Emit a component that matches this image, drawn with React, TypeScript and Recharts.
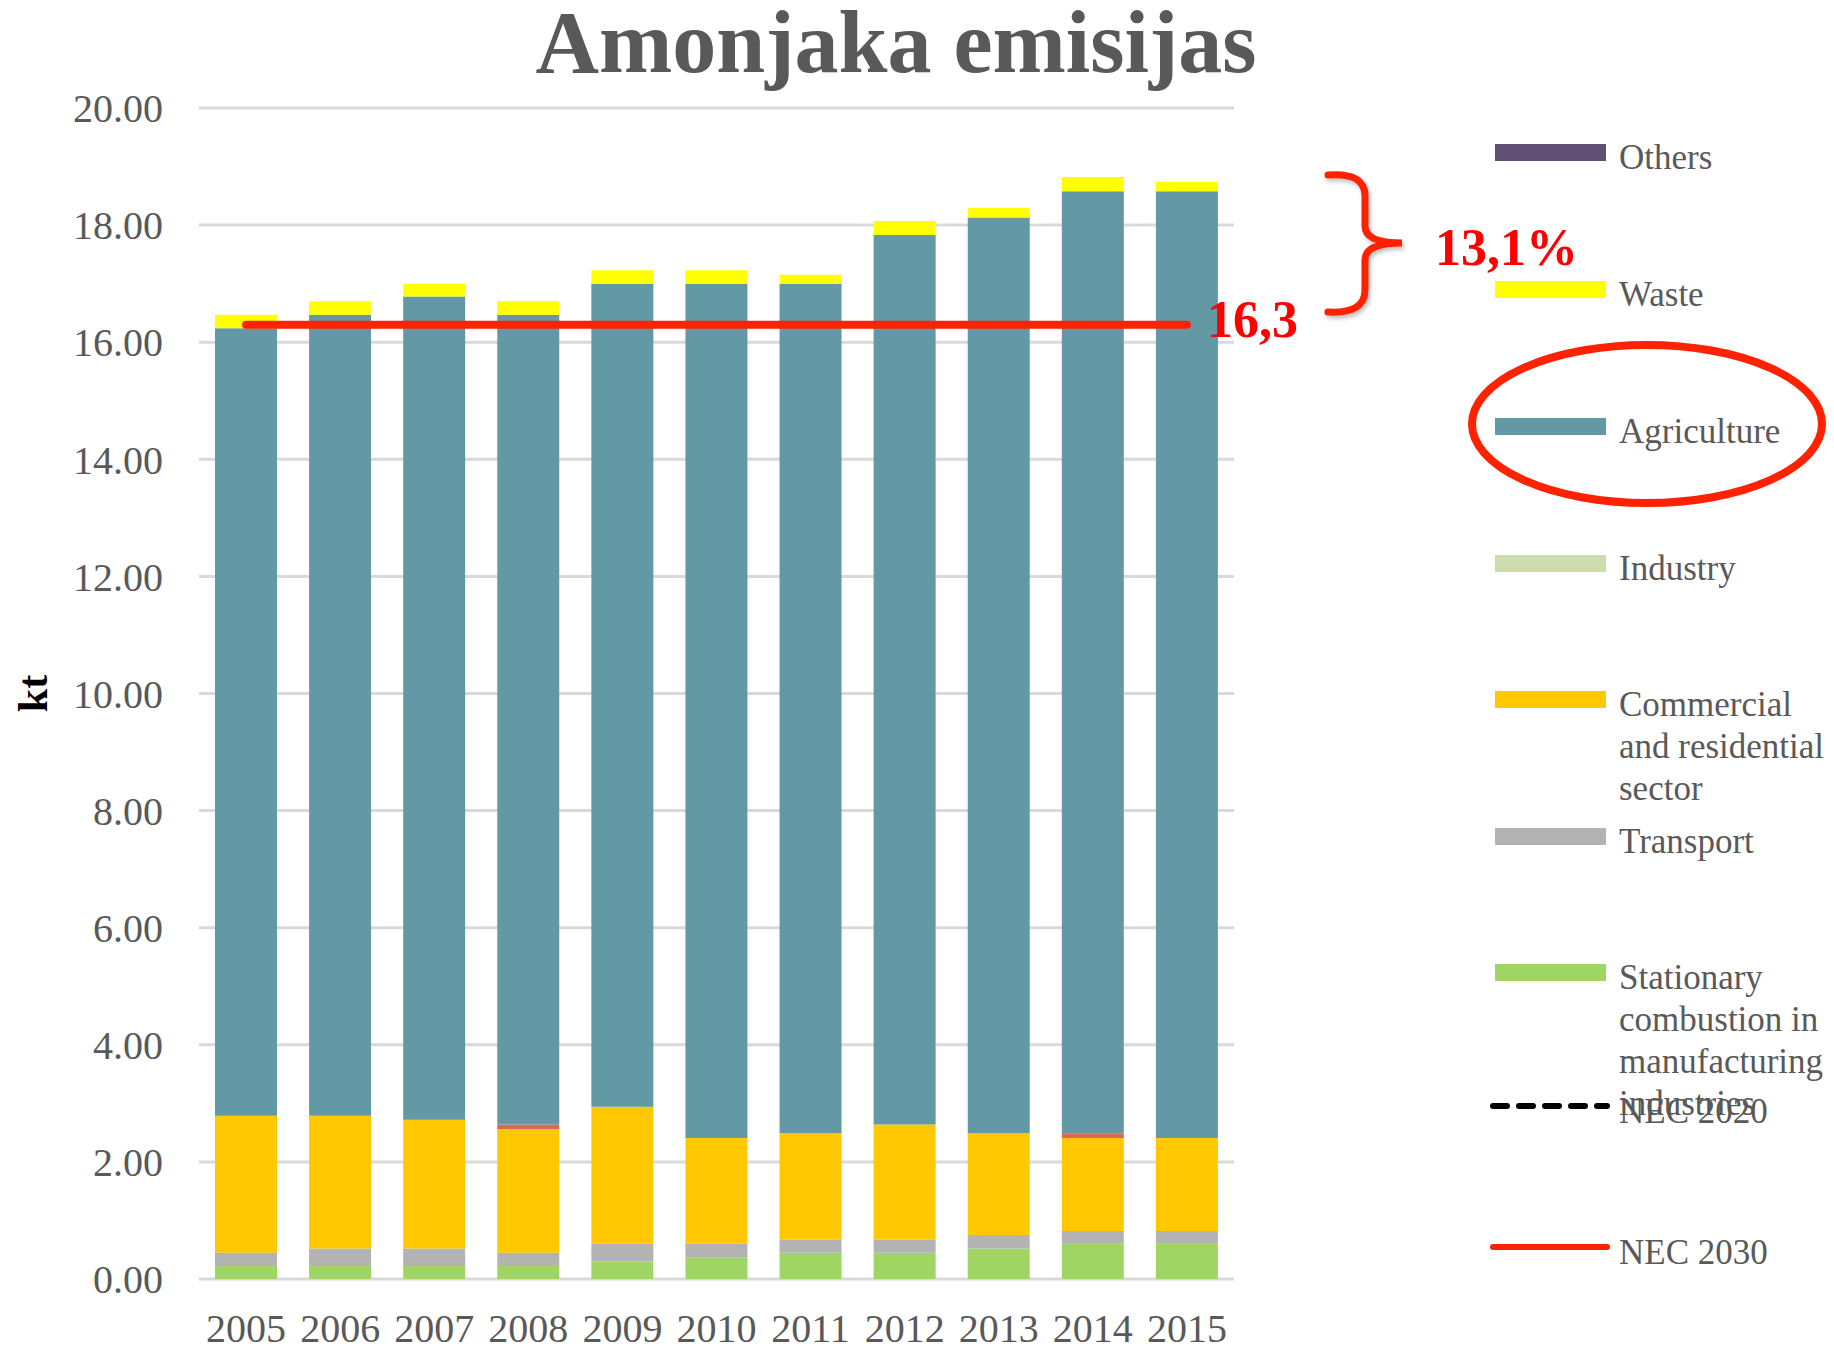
import React from 'react';
import { ComposedChart, Bar, Line, XAxis, YAxis, CartesianGrid } from 'recharts';

const years = ['2005', '2006', '2007', '2008', '2009', '2010', '2011', '2012', '2013', '2014', '2015'];

// kt, stacked bottom to top
const stationary = [0.22, 0.22, 0.22, 0.22, 0.3, 0.37, 0.45, 0.45, 0.52, 0.6, 0.6];
const transport = [0.23, 0.3, 0.3, 0.23, 0.3, 0.23, 0.22, 0.22, 0.23, 0.22, 0.22];
const commercial = [2.34, 2.27, 2.2, 2.11, 2.34, 1.81, 1.82, 1.97, 1.74, 1.59, 1.59];
const industry = [0, 0, 0, 0, 0, 0, 0, 0, 0, 0, 0];
const unlisted = [0, 0, 0, 0.08, 0, 0, 0, 0, 0, 0.08, 0];
const agriculture = [13.45, 13.68, 14.06, 13.83, 14.06, 14.59, 14.51, 15.19, 15.64, 16.09, 16.17];
const waste = [0.23, 0.23, 0.22, 0.23, 0.23, 0.23, 0.15, 0.24, 0.16, 0.24, 0.16];
const others = [0, 0, 0, 0, 0, 0, 0, 0, 0, 0, 0];
const nec2030Target = 16.3;

const yTicks = [0, 2, 4, 6, 8, 10, 12, 14, 16, 18, 20];

const data = years.map((year, i) => ({
  year,
  stationary: stationary[i],
  transport: transport[i],
  commercial: commercial[i],
  industry: industry[i],
  unlisted: unlisted[i],
  agriculture: agriculture[i],
  waste: waste[i],
  others: others[i],
  nec2030: nec2030Target,
}));

const FONT = "'Liberation Serif', 'Times New Roman', serif";
const TEXT_GRAY = '#595959';
const RED = '#ff2200';

const legendItems = [
  { lines: ['Others'], color: '#5f5073', kind: 'bar', y: 152 },
  { lines: ['Waste'], color: '#ffff00', kind: 'bar', y: 289 },
  { lines: ['Agriculture'], color: '#6399a5', kind: 'bar', y: 426 },
  { lines: ['Industry'], color: '#cddcac', kind: 'bar', y: 563 },
  { lines: ['Commercial', 'and residential', 'sector'], color: '#ffc800', kind: 'bar', y: 699 },
  { lines: ['Transport'], color: '#b3b3b3', kind: 'bar', y: 836 },
  { lines: ['Stationary', 'combustion in', 'manufacturing', 'industries'], color: '#9fd563', kind: 'bar', y: 972 },
  { lines: ['NEC 2020'], color: '#000000', kind: 'dash', y: 1106 },
  { lines: ['NEC 2030'], color: RED, kind: 'line', y: 1247 },
];

const ChartLegend = () => (
  <>
    {legendItems.map((item) => (
      <React.Fragment key={item.lines[0]}>
        {item.kind === 'bar' ? (
          <div
            style={{
              position: 'absolute',
              left: 1495,
              top: item.y - 8,
              width: 111,
              height: 17,
              background: item.color,
            }}
          />
        ) : (
          <svg style={{ position: 'absolute', left: 1488, top: item.y - 6 }} width={124} height={12}>
            <line
              x1={5}
              x2={119}
              y1={6}
              y2={6}
              stroke={item.color}
              strokeWidth={6}
              strokeLinecap="round"
              strokeDasharray={item.kind === 'dash' ? '14 12' : undefined}
            />
          </svg>
        )}
        <div
          style={{
            position: 'absolute',
            left: 1619,
            top: item.y + 6 - 21,
            fontFamily: FONT,
            fontSize: 35,
            lineHeight: '42px',
            color: TEXT_GRAY,
            whiteSpace: 'nowrap',
          }}
        >
          {item.lines.map((l) => (
            <div key={l}>{l}</div>
          ))}
        </div>
      </React.Fragment>
    ))}
  </>
);

const Annotations = () => (
  <svg
    width={1834}
    height={1349}
    style={{ position: 'absolute', left: 0, top: 0, pointerEvents: 'none' }}
  >
    <defs>
      <filter id="shadow" x="-20%" y="-20%" width="140%" height="140%">
        <feDropShadow dx={2} dy={3} stdDeviation={2} floodColor="#000" floodOpacity={0.25} />
      </filter>
    </defs>
    <text x={896} y={72} textAnchor="middle" fontFamily={FONT} fontWeight="bold" fontSize={88} fill={TEXT_GRAY}>
      Amonjaka emisijas
    </text>
    <path
      d="M1328,175 Q1365,172 1365,196 L1365,226 Q1365,243 1402,243 Q1365,243 1365,260 L1365,290 Q1365,314 1328,312"
      fill="none"
      stroke={RED}
      strokeWidth={7}
      strokeLinecap="round"
      filter="url(#shadow)"
    />
    <text x={1435} y={265} fontFamily={FONT} fontWeight="bold" fontSize={52} fill="#ff0000">
      13,1%
    </text>
    <text x={1207} y={337} fontFamily={FONT} fontWeight="bold" fontSize={52} fill="#ff0000">
      16,3
    </text>
    <ellipse cx={1647} cy={424} rx={175} ry={79} fill="none" stroke={RED} strokeWidth={8} />
  </svg>
);

const App: React.FC = () => {
  return (
    <div style={{ position: 'absolute', left: 0, top: 0, width: 1834, height: 1349, background: '#fff' }}>
      <ComposedChart
        width={1834}
        height={1349}
        data={data}
        margin={{ top: 108, right: 600, bottom: 0, left: 119 }}
        barCategoryGap="17%"
      >
        <CartesianGrid vertical={false} stroke="#d9d9d9" strokeWidth={3} />
        <XAxis
          dataKey="year"
          height={70}
          axisLine={false}
          tickLine={false}
          tickSize={0}
          tickMargin={35}
          tick={{ fill: TEXT_GRAY, fontSize: 40, fontFamily: FONT }}
        />
        <YAxis
          width={80}
          domain={[0, 20]}
          ticks={yTicks}
          axisLine={false}
          tickLine={false}
          tickSize={0}
          tickMargin={36}
          tickFormatter={(v: number) => v.toFixed(2)}
          tick={{ fill: TEXT_GRAY, fontSize: 40, fontFamily: FONT }}
          label={{
            value: 'kt',
            angle: -90,
            position: 'insideLeft',
            offset: -87,
            style: { fill: '#000', fontSize: 42, fontWeight: 'bold', fontFamily: FONT, textAnchor: 'middle' },
          }}
        />
        <Bar dataKey="stationary" stackId="a" fill="#9fd563" isAnimationActive={false} />
        <Bar dataKey="transport" stackId="a" fill="#b3b3b3" isAnimationActive={false} />
        <Bar dataKey="commercial" stackId="a" fill="#ffc800" isAnimationActive={false} />
        <Bar dataKey="industry" stackId="a" fill="#cddcac" isAnimationActive={false} />
        <Bar dataKey="unlisted" stackId="a" fill="#d9675a" isAnimationActive={false} />
        <Bar dataKey="agriculture" stackId="a" fill="#6399a5" isAnimationActive={false} />
        <Bar dataKey="waste" stackId="a" fill="#ffff00" isAnimationActive={false} />
        <Bar dataKey="others" stackId="a" fill="#5f5073" isAnimationActive={false} />
        <Line
          dataKey="nec2030"
          stroke={RED}
          strokeWidth={8}
          strokeLinecap="round"
          dot={false}
          activeDot={false}
          isAnimationActive={false}
        />
      </ComposedChart>
      <ChartLegend />
      <Annotations />
    </div>
  );
};

export default App;
